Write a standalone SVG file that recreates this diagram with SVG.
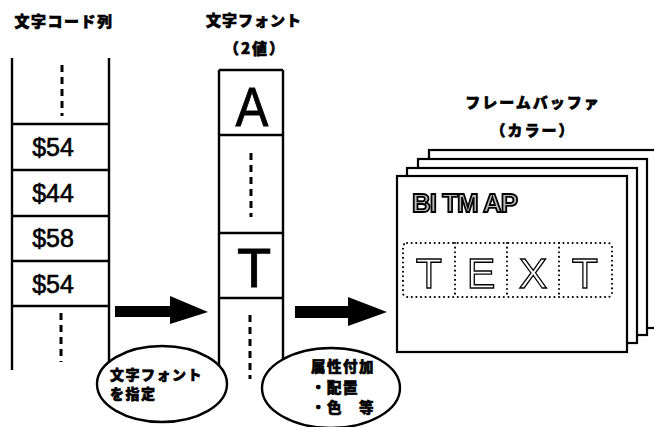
<svg xmlns="http://www.w3.org/2000/svg" width="654" height="427" viewBox="0 0 654 427">
<defs>
<style>
.ln{stroke:#000;stroke-width:2.4;fill:none}
.dash{stroke:#000;stroke-width:3;stroke-dasharray:7,5;fill:none}
.jp{font-family:"Noto Sans CJK JP",sans-serif;font-weight:900;fill:#000;stroke:#000;stroke-width:0.6}
.cell{font-family:"Liberation Sans",Arial,sans-serif;font-size:25px;fill:#000;stroke:#000;stroke-width:0.6;text-anchor:middle}
.big{font-family:"Liberation Sans",Arial,sans-serif;font-size:56px;fill:#000;stroke:#000;stroke-width:0.8;text-anchor:middle}
.frame{fill:#fff;stroke:#000;stroke-width:2.2}
.dot{fill:none;stroke:#000;stroke-width:2;stroke-dasharray:0.1,4.5;stroke-linecap:round}
.hollow{font-family:"Liberation Sans",Arial,sans-serif;font-size:43px;fill:#fff;stroke:#000;stroke-width:1.3;text-anchor:middle}
.ell{fill:#fff;stroke:#000;stroke-width:2.4}
</style>
<filter id="gray" x="0" y="0" width="1" height="1"><feColorMatrix type="saturate" values="0"/></filter>
</defs>
<rect width="654" height="427" fill="#fff"/>

<g id="code-column">
<text class="jp" x="64" y="27" font-size="15" text-anchor="middle" letter-spacing="1.5">文字コード列</text>
<line class="ln" x1="12" y1="58" x2="12" y2="370"/>
<line class="ln" x1="109" y1="58" x2="109" y2="370"/>
<line class="dash" x1="62" y1="65" x2="62" y2="116"/>
<line class="ln" x1="12" y1="124" x2="109" y2="124"/>
<line class="ln" x1="12" y1="170" x2="109" y2="170"/>
<line class="ln" x1="12" y1="216" x2="109" y2="216"/>
<line class="ln" x1="12" y1="261" x2="109" y2="261"/>
<line class="ln" x1="12" y1="306" x2="109" y2="306"/>
<text class="cell" x="53" y="156">$54</text>
<text class="cell" x="53" y="202">$44</text>
<text class="cell" x="53" y="247">$58</text>
<text class="cell" x="53" y="293">$54</text>
<line class="dash" x1="61" y1="313" x2="61" y2="362"/>
</g>

<g id="font-column">
<text class="jp" x="254" y="26" font-size="15" text-anchor="middle" letter-spacing="1">文字フォント</text>
<text class="jp" x="255" y="54" font-size="15" text-anchor="middle" letter-spacing="2">（2値）</text>
<line class="ln" x1="219" y1="70" x2="219" y2="370"/>
<line class="ln" x1="283" y1="70" x2="283" y2="370"/>
<line class="ln" x1="219" y1="70" x2="283" y2="70"/>
<line class="ln" x1="219" y1="135" x2="283" y2="135"/>
<line class="ln" x1="219" y1="233" x2="283" y2="233"/>
<line class="ln" x1="219" y1="298" x2="283" y2="298"/>
<text class="big" x="252" y="126" transform="translate(252 0) scale(0.88 1) translate(-252 0)">A</text>
<line class="dash" x1="251" y1="153" x2="251" y2="217"/>
<text class="big" x="254" y="287">T</text>
<line class="dash" x1="250" y1="315" x2="250" y2="379"/>
</g>

<g id="frame-buffer">
<text class="jp" x="533" y="108" font-size="15" text-anchor="middle" letter-spacing="2">フレームバッファ</text>
<text class="jp" x="533" y="136" font-size="15" text-anchor="middle" letter-spacing="2">（カラー）</text>
<rect class="frame" x="429" y="150" width="240" height="178"/>
<rect class="frame" x="418" y="159" width="229" height="176"/>
<rect class="frame" x="407" y="168" width="230" height="175"/>
<rect class="frame" x="397" y="176" width="230" height="176"/>
<g filter="url(#gray)">
<text x="412" y="212" font-family="'Liberation Sans',Arial,sans-serif" font-size="26" font-weight="bold" fill="#bbb" stroke="#000" stroke-width="1.8" letter-spacing="-1">BI TM AP</text>
<text class="hollow" x="429" y="288">T</text>
<text class="hollow" x="481" y="288">E</text>
<text class="hollow" x="533" y="288">X</text>
<text class="hollow" x="585" y="288">T</text>
</g>
<rect class="dot" x="403" y="243" width="209" height="54" rx="4"/>
<line class="dot" x1="455" y1="243" x2="455" y2="297"/>
<line class="dot" x1="507" y1="243" x2="507" y2="297"/>
<line class="dot" x1="559" y1="243" x2="559" y2="297"/>
</g>

<g id="connectors">
<polygon points="115,306 170,306 170,296 208,312 170,324 170,317 115,317" fill="#000"/>
<polygon points="295,306 348,306 348,297 387,312 348,326 348,318 295,318" fill="#000"/>
</g>

<g id="select-font">
<ellipse class="ell" cx="162" cy="384" rx="65" ry="38"/>
<text class="jp" x="110" y="380" font-size="14" letter-spacing="1.5">文字フォント</text>
<text class="jp" x="110" y="399" font-size="14" letter-spacing="1.5">を指定</text>
</g>

<g id="attributes">
<ellipse class="ell" cx="331" cy="388" rx="69" ry="40"/>
<text class="jp" x="311" y="372" font-size="14.5" letter-spacing="1.5">属性付加</text>
<text class="jp" x="311" y="393" font-size="14.5" letter-spacing="1.5">・配置</text>
<text class="jp" x="311" y="413" font-size="14.5" letter-spacing="1.5">・色　等</text>
</g>
</svg>
